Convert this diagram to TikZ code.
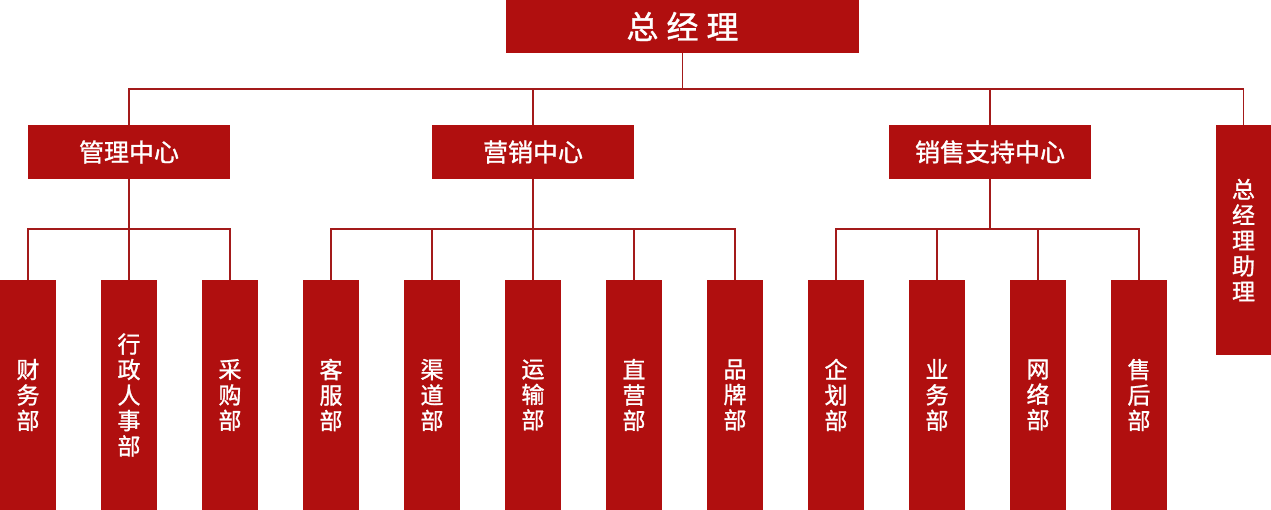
\documentclass[tikz,border=0pt]{standalone}
\usepackage{fontspec}
\setmainfont{Noto Sans CJK SC}
\newfontfamily\medfont{Noto Sans CJK SC}[FakeBold=1.2]
\definecolor{boxred}{HTML}{B00F0F}
\definecolor{linered}{HTML}{A31A1A}
\begin{document}
\begin{tikzpicture}[x=1pt,y=-1pt,
  box/.style={fill=boxred,text=white,inner sep=0pt,align=center},
  topbox/.style={box,minimum width=353pt,minimum height=53pt,font=\medfont\fontsize{32}{34}\selectfont},
  ctrbox/.style={box,minimum width=202pt,minimum height=54pt,font=\medfont\fontsize{25}{27}\selectfont},
  deptbox/.style={box,minimum width=56pt,minimum height=230pt,font=\medfont\fontsize{23}{25.5}\selectfont},
  conn/.style={draw=linered,line width=1.8pt}]
\useasboundingbox (0,0) rectangle (1271,510);
\node[topbox] (top) at (682.5,26.5) {总\hspace{8pt}经\hspace{8pt}理};
\node[ctrbox] (c1) at (129,152) {管理中心};
\node[ctrbox] (c2) at (533,152) {营销中心};
\node[ctrbox] (c3) at (990,152) {销售支持中心};
\node[deptbox,minimum width=55pt] (c4) at (1243.5,240) {总\\经\\理\\助\\理};
% departments
\node[deptbox] (d1) at (28,395) {财\\务\\部};
\node[deptbox] (d2) at (129,395) {行\\政\\人\\事\\部};
\node[deptbox] (d3) at (230,395) {采\\购\\部};
\node[deptbox] (d4) at (331,395) {客\\服\\部};
\node[deptbox] (d5) at (432,395) {渠\\道\\部};
\node[deptbox] (d6) at (533,395) {运\\输\\部};
\node[deptbox] (d7) at (634,395) {直\\营\\部};
\node[deptbox] (d8) at (735,395) {品\\牌\\部};
\node[deptbox] (d9) at (836,395) {企\\划\\部};
\node[deptbox] (d10) at (937,395) {业\\务\\部};
\node[deptbox] (d11) at (1038,395) {网\\络\\部};
\node[deptbox] (d12) at (1139,395) {售\\后\\部};
% connectors level 1
\draw[conn] (top.south) -- ++(0,36);
\draw[conn] (c1.north) -- ++(0,-36) -| (c4.north);
\draw[conn] (c2.north) -- ++(0,-36);
\draw[conn] (c3.north) -- ++(0,-36);
% level 2
\draw[conn] (d1.north) -- ++(0,-51) -| (d3.north);
\draw[conn] (d2.north) -- (c1.south);
\draw[conn] (d4.north) -- ++(0,-51) -| (d8.north);
\draw[conn] (d6.north) -- (c2.south);
\draw[conn] (d5.north) -- ++(0,-51);
\draw[conn] (d7.north) -- ++(0,-51);
\draw[conn] (d9.north) -- ++(0,-51) -| (d12.north);
\draw[conn] (d10.north) -- ++(0,-51);
\draw[conn] (d11.north) -- ++(0,-51);
\draw[conn] (c3.south) -- ++(0,50);
\end{tikzpicture}
\end{document}
